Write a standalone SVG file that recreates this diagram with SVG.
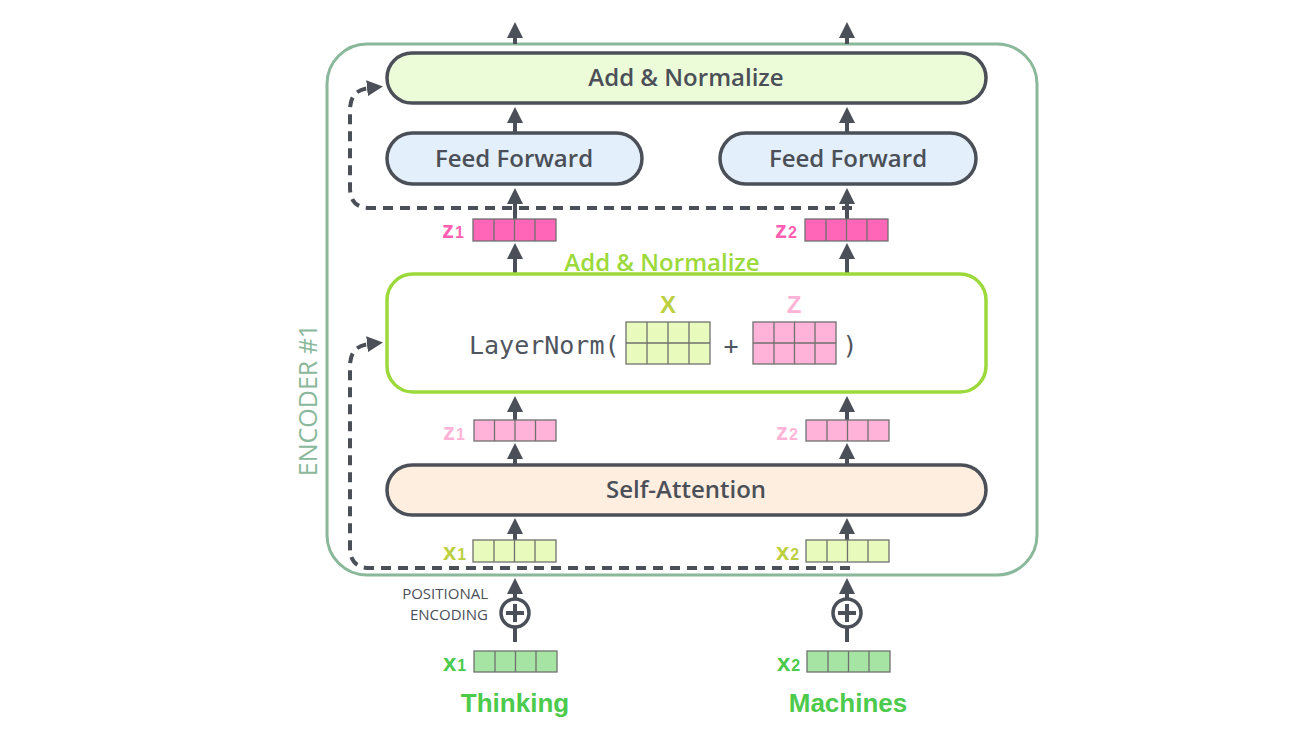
<svg xmlns="http://www.w3.org/2000/svg" width="1300" height="732" viewBox="0 0 1300 732">
<style>
.box{stroke:#4b5058;stroke-width:3.5}
.lbl{font-family:"Open Sans","DejaVu Sans",sans-serif;font-size:24px;font-weight:600;fill:#4b5058;text-anchor:middle}
.arr{stroke:#4b5058;stroke-width:4;fill:none;marker-end:url(#ah)}
.dash{stroke:#4b5058;stroke-width:4;fill:none;stroke-dasharray:10 7;marker-end:url(#ah)}
.cell{stroke:#707070;stroke-width:1.3}
.sub{font-family:"Liberation Sans",Arial,sans-serif;font-weight:bold}
</style>
<defs>
<marker id="ah" viewBox="0 0 16 16" refX="2" refY="8" markerWidth="16" markerHeight="16" markerUnits="userSpaceOnUse" orient="auto">
<path d="M0,0 L16,8 L0,16 z" fill="#4b5058"/>
</marker>
</defs>
<rect width="1300" height="732" fill="#ffffff"/>

<g id="encoder">
<rect x="327" y="44" width="710" height="531" rx="40" fill="none" stroke="#8ab89a" stroke-width="3"/>
<text transform="translate(317,400) rotate(-90)" text-anchor="middle" font-family="Open Sans, DejaVu Sans, sans-serif" font-size="25" fill="#8ab89a">ENCODER #1</text>
</g>

<g id="connectors">
<line class="arr" x1="515" y1="44" x2="515" y2="36"/>
<line class="arr" x1="847" y1="44" x2="847" y2="36"/>
<line class="arr" x1="515" y1="133" x2="515" y2="121"/>
<line class="arr" x1="847" y1="133" x2="847" y2="121"/>
<line class="arr" x1="515" y1="219" x2="515" y2="202"/>
<line class="arr" x1="847" y1="219" x2="847" y2="202"/>
<line class="arr" x1="515" y1="273" x2="515" y2="257"/>
<line class="arr" x1="847" y1="273" x2="847" y2="257"/>
<line class="arr" x1="515" y1="420" x2="515" y2="410"/>
<line class="arr" x1="847" y1="420" x2="847" y2="410"/>
<line class="arr" x1="515" y1="465" x2="515" y2="457"/>
<line class="arr" x1="847" y1="465" x2="847" y2="457"/>
<line class="arr" x1="515" y1="540" x2="515" y2="532"/>
<line class="arr" x1="847" y1="540" x2="847" y2="532"/>
<line class="arr" x1="515" y1="599" x2="515" y2="592"/>
<line class="arr" x1="847" y1="599" x2="847" y2="592"/>
<line x1="515" y1="627" x2="515" y2="642" stroke="#4b5058" stroke-width="4"/>
<line x1="847" y1="627" x2="847" y2="642" stroke="#4b5058" stroke-width="4"/>
<path class="dash" d="M852,208 H370 Q350,208 350,188 V110 Q350,90 369,88"/>
<path class="dash" d="M850,568 H370 Q350,568 350,548 V366 Q350,346 369,344"/>
</g>

<g id="add-norm-top">
<rect class="box" x="387" y="53" width="599" height="50" rx="25" fill="#ecfbd8"/>
<text class="lbl" x="686" y="86">Add &amp; Normalize</text>
</g>

<g id="ff1">
<rect class="box" x="387" y="133" width="255" height="51" rx="25.5" fill="#e3effb"/>
<text class="lbl" x="514" y="167">Feed Forward</text>
</g>
<g id="ff2">
<rect class="box" x="720" y="133" width="256" height="51" rx="25.5" fill="#e3effb"/>
<text class="lbl" x="848" y="167">Feed Forward</text>
</g>

<g id="z1-out">
<text class="sub" x="442" y="238" font-size="24" fill="#ff5fb2">z<tspan font-size="16" dx="1">1</tspan></text>
<rect class="cell" x="473" y="219" width="83" height="22" fill="#ff66b8"/>
<path class="cell" d="M494,219V241M514.5,219V241M535,219V241"/>
</g>
<g id="z2-out">
<text class="sub" x="775" y="238" font-size="24" fill="#ff5fb2">z<tspan font-size="16" dx="1">2</tspan></text>
<rect class="cell" x="805" y="219" width="83" height="22" fill="#ff66b8"/>
<path class="cell" d="M826,219V241M846.5,219V241M867,219V241"/>
</g>

<g id="add-norm-mid">
<text class="lbl" x="662" y="271" style="fill:#9cd93b">Add &amp; Normalize</text>
<rect x="387" y="274" width="599" height="118" rx="26" fill="#ffffff" stroke="#9cd93b" stroke-width="3.5"/>
<text x="469" y="354" font-family="DejaVu Sans Mono, monospace" font-size="25" fill="#505660">LayerNorm(</text>
<text class="sub" x="668" y="313" font-size="24" fill="#bccf3f" text-anchor="middle">X</text>
<rect class="cell" x="626" y="322" width="84" height="42" fill="#e8fbbd"/>
<path class="cell" d="M647,322V364M668,322V364M689,322V364M626,343H710"/>
<text x="731" y="354" font-family="DejaVu Sans Mono, monospace" font-size="25" fill="#505660" text-anchor="middle">+</text>
<text class="sub" x="794" y="313" font-size="24" fill="#ffb3d6" text-anchor="middle">Z</text>
<rect class="cell" x="753" y="322" width="83" height="42" fill="#ffb3d9"/>
<path class="cell" d="M774,322V364M794.5,322V364M815,322V364M753,343H836"/>
<text x="850" y="354" font-family="DejaVu Sans Mono, monospace" font-size="25" fill="#505660" text-anchor="middle">)</text>
</g>

<g id="z1-in">
<text class="sub" x="443" y="440" font-size="24" fill="#ffb3d6">z<tspan font-size="16" dx="1">1</tspan></text>
<rect class="cell" x="474" y="420" width="82" height="21" fill="#ffb3d9"/>
<path class="cell" d="M494.5,420V441M515,420V441M535.5,420V441"/>
</g>
<g id="z2-in">
<text class="sub" x="776" y="440" font-size="24" fill="#ffb3d6">z<tspan font-size="16" dx="1">2</tspan></text>
<rect class="cell" x="806" y="420" width="83" height="21" fill="#ffb3d9"/>
<path class="cell" d="M827,420V441M847.5,420V441M868,420V441"/>
</g>

<g id="self-attention">
<rect class="box" x="387" y="465" width="599" height="50" rx="25" fill="#fdeee0"/>
<text class="lbl" x="686" y="498">Self-Attention</text>
</g>

<g id="x1-in">
<text class="sub" x="443" y="560" font-size="24" fill="#bccf3f">x<tspan font-size="16" dx="1">1</tspan></text>
<rect class="cell" x="473" y="540" width="83" height="22" fill="#e8fbbd"/>
<path class="cell" d="M494,540V562M514.5,540V562M535,540V562"/>
</g>
<g id="x2-in">
<text class="sub" x="776" y="560" font-size="24" fill="#bccf3f">x<tspan font-size="16" dx="1">2</tspan></text>
<rect class="cell" x="806" y="540" width="83" height="22" fill="#e8fbbd"/>
<path class="cell" d="M827,540V562M847.5,540V562M868,540V562"/>
</g>

<g id="pe1">
<text font-family="Open Sans, DejaVu Sans, sans-serif" font-size="15" fill="#4b5058" text-anchor="end" x="488" y="599">POSITIONAL</text>
<text font-family="Open Sans, DejaVu Sans, sans-serif" font-size="15" fill="#4b5058" text-anchor="end" x="488" y="620">ENCODING</text>
<circle cx="515" cy="613" r="14" fill="#ffffff" stroke="#4b5058" stroke-width="3.5"/>
<path d="M515,604V622M506,613H524" stroke="#4b5058" stroke-width="4"/>
</g>
<g id="pe2">
<circle cx="847" cy="613" r="14" fill="#ffffff" stroke="#4b5058" stroke-width="3.5"/>
<path d="M847,604V622M838,613H856" stroke="#4b5058" stroke-width="4"/>
</g>

<g id="x1-emb">
<text class="sub" x="443" y="671" font-size="24" fill="#4cca4c">x<tspan font-size="16" dx="1">1</tspan></text>
<rect class="cell" x="474" y="651" width="83" height="21" fill="#a5e4a3"/>
<path class="cell" d="M495,651V672M515.5,651V672M536,651V672"/>
</g>
<g id="x2-emb">
<text class="sub" x="777" y="671" font-size="24" fill="#4cca4c">x<tspan font-size="16" dx="1">2</tspan></text>
<rect class="cell" x="807" y="651" width="83" height="21" fill="#a5e4a3"/>
<path class="cell" d="M828,651V672M848.5,651V672M869,651V672"/>
</g>

<g id="word-thinking">
<text class="sub" x="515" y="712" font-size="26" fill="#4cca4c" text-anchor="middle">Thinking</text>
</g>
<g id="word-machines">
<text class="sub" x="848" y="712" font-size="26" fill="#4cca4c" text-anchor="middle">Machines</text>
</g>
</svg>
